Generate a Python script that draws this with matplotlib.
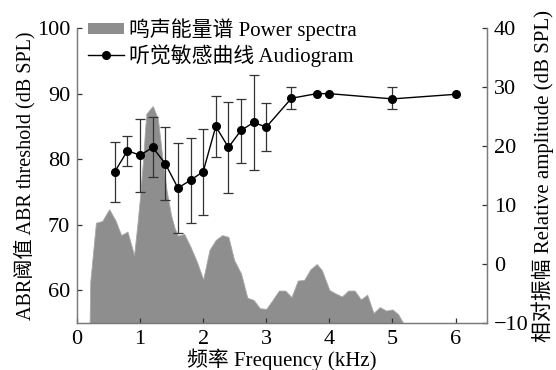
import matplotlib
matplotlib.use("Agg")
import matplotlib.pyplot as plt
from matplotlib.patches import Patch
from matplotlib.lines import Line2D

plt.rcParams['font.family'] = ['Liberation Serif', 'Noto Sans CJK SC']
plt.rcParams['axes.unicode_minus'] = True

# Audiogram (left axis, dB SPL)
aud_freq = [0.6, 0.8, 1.0, 1.2, 1.4, 1.6, 1.8, 2.0, 2.2, 2.4, 2.6, 2.8, 3.0, 3.4, 3.8, 4.0, 5.0, 6.0]
aud_thr = [78.1, 81.3, 80.6, 81.8, 79.3, 75.6, 76.8, 78.1, 85.0, 81.8, 84.4, 85.6, 84.9, 89.3, 90.0, 90.0, 89.2, 89.9]
aud_err_hi = [82.6, 83.6, 86.2, 86.4, 84.9, 82.4, 83.3, 84.6, 89.6, 88.8, 89.2, 92.8, 88.6, 91.0, 90.0, 90.0, 91.0, 89.9]
aud_err_lo = [73.5, 78.9, 75.0, 77.3, 73.7, 68.8, 70.3, 71.5, 80.3, 74.8, 79.4, 78.4, 81.2, 87.6, 90.0, 90.0, 87.6, 89.9]
aud_has_err = [True]*14 + [False, False, True, False]

# Power spectrum (right axis, relative amplitude dB SPL)
spec_freq = [0.2, 0.21, 0.30, 0.40, 0.51, 0.61, 0.70, 0.80, 0.905, 0.96, 1.0, 1.05, 1.08, 1.10,
             1.20, 1.28, 1.30, 1.36, 1.42, 1.49, 1.55, 1.60, 1.70, 1.80, 1.90, 2.00, 2.10, 2.20,
             2.30, 2.40, 2.49, 2.60, 2.70, 2.80, 2.90, 3.00, 3.10, 3.20, 3.30, 3.40, 3.50, 3.60,
             3.70, 3.80, 3.88, 4.00, 4.10, 4.20, 4.30, 4.40, 4.50, 4.60, 4.70, 4.80, 4.90, 5.00,
             5.09, 5.17]
spec_amp = [-10, -3.0, 7.0, 7.3, 9.3, 7.4, 4.9, 5.5, 1.5, 7.0, 11.5, 18.0, 23.0, 25.5,
            26.8, 24.7, 23.0, 17.3, 12.5, 8.3, 6.0, 4.8, 5.1, 2.9, 0.4, -2.6, 2.4, 4.1,
            4.9, 4.6, 0.7, -1.6, -5.7, -6.1, -7.5, -7.6, -6.1, -4.5, -4.5, -5.6, -2.8, -2.7,
            -0.9, 0.0, -1.0, -4.4, -5.0, -5.5, -4.5, -4.5, -6.0, -5.2, -8.3, -7.3, -7.9, -7.7,
            -8.5, -10]

x_ticks = [0, 1, 2, 3, 4, 5, 6]
left_ticks = [60, 70, 80, 90, 100]
right_ticks = [-10, 0, 10, 20, 30, 40]

labels = {
    'x': '频率 Frequency (kHz)',
    'yl': 'ABR阈值 ABR threshold (dB SPL)',
    'yr': '相对振幅 Relative amplitude (dB SPL)',
    'spec': '鸣声能量谱 Power spectra',
    'aud': '听觉敏感曲线 Audiogram',
}

fig = plt.figure(figsize=(5.56, 3.70), dpi=100)
ax = fig.add_axes([0.1385, 0.127, 0.7375, 0.797])
ax2 = ax.twinx()
ax.set_zorder(ax2.get_zorder() + 1)
ax.patch.set_visible(False)

spec_color = '#8e8e8e'
ax2.fill_between(spec_freq, spec_amp, -10, color=spec_color, linewidth=0.6, edgecolor='#a8a8a8')
ax2.set_ylim(-10, 40)
ax2.set_yticks(right_ticks)

# error bars
ex = [f for f, h in zip(aud_freq, aud_has_err) if h]
ey = [v for v, h in zip(aud_thr, aud_has_err) if h]
elo = [v - l for v, l, h in zip(aud_thr, aud_err_lo, aud_has_err) if h]
ehi = [u - v for v, u, h in zip(aud_thr, aud_err_hi, aud_has_err) if h]
ax.errorbar(ex, ey, yerr=[elo, ehi], fmt='none', ecolor='#333333', elinewidth=0.9,
            capsize=3.6, capthick=0.9)
ax.plot(aud_freq, aud_thr, color='black', linewidth=1.0, marker='o', markersize=5.5)

ax.set_xlim(0, 6.5)
ax.set_ylim(55, 100)
ax.set_xticks(x_ticks)
ax.set_yticks(left_ticks)

spine_c = '#7a7a7a'
for a in (ax, ax2):
    a.spines['top'].set_visible(False)
    for s in ('left', 'right', 'bottom'):
        a.spines[s].set_color(spine_c)
        a.spines[s].set_linewidth(0.9)
    a.tick_params(direction='in', length=3.5, width=0.9, color='#333333', labelsize=16, pad=5)
ax.tick_params(axis='x', pad=5)

ax.set_xlabel(labels['x'], fontsize=15, labelpad=0)
ax.set_ylabel(labels['yl'], fontsize=14.5, labelpad=1)
ax2.set_ylabel(labels['yr'], fontsize=15, labelpad=2)

handles = [Patch(facecolor=spec_color, edgecolor='none'),
           Line2D([], [], color='black', linewidth=1.0, marker='o', markersize=5.5)]
leg = ax.legend(handles, [labels['spec'], labels['aud']], loc='upper left',
                bbox_to_anchor=(0.028, 1.033), frameon=False, fontsize=15,
                handlelength=1.7, handleheight=0.45, handletextpad=0.25, labelspacing=0.15,
                borderaxespad=0, borderpad=0)

fig.savefig('out.png', dpi=100)
